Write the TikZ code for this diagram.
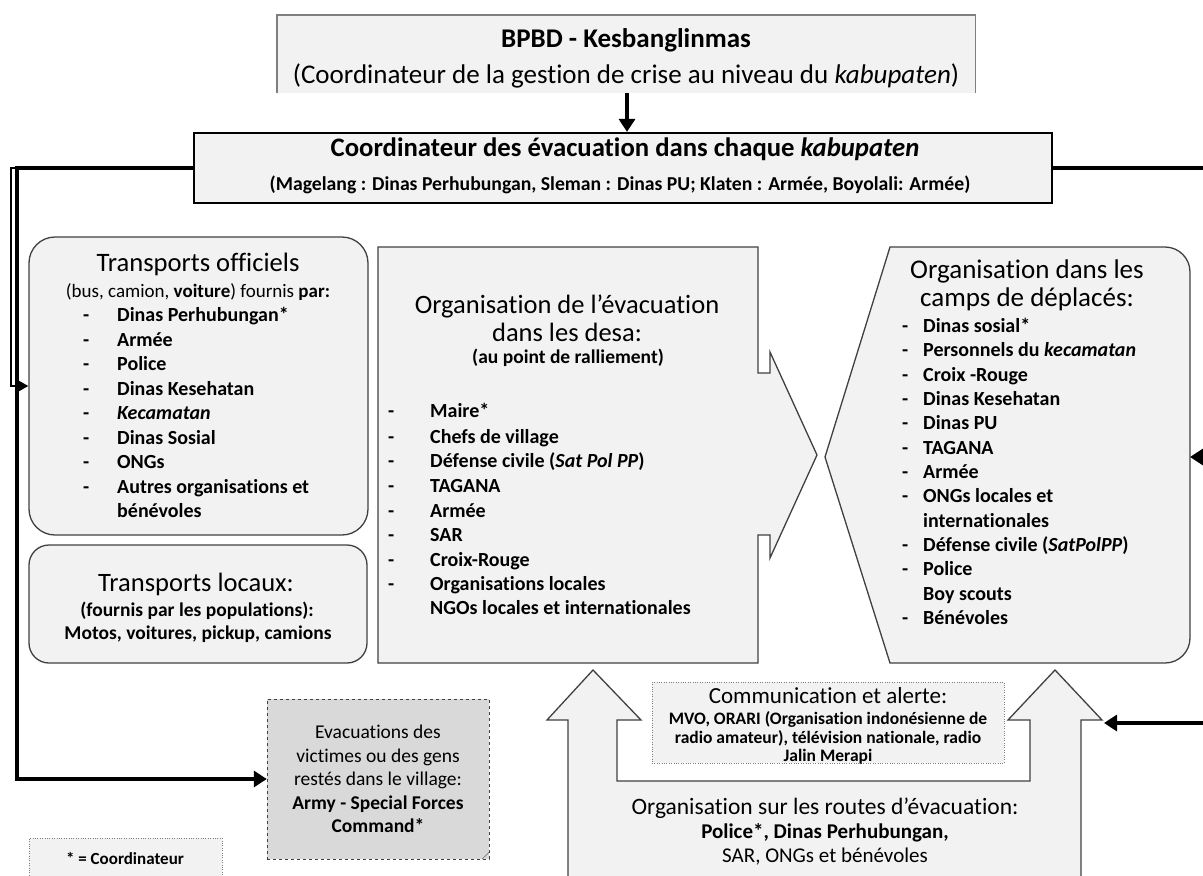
\documentclass[tikz,border=0pt]{standalone}
\usepackage{fontspec}
\setmainfont{Carlito}[Ligatures=NoCommon]
\usetikzlibrary{arrows.meta}

\definecolor{boxgray}{HTML}{F2F2F2}
\definecolor{evacgray}{HTML}{D9D9D9}
\definecolor{edgegray}{HTML}{404040}
\definecolor{linegray}{HTML}{7F7F7F}

\tikzset{
  conn/.style={line width=3.2pt, -{Triangle[length=13pt,width=16pt]}},
  thinconn/.style={line width=2.2pt, -{Triangle[length=13pt,width=14pt]}},
  panel/.style={draw=edgegray, line width=1.3pt, fill=boxgray},
  roundpanel/.style={panel, rounded corners=26pt, inner sep=0pt},
  title/.style={font=\fontsize{26.5}{31}\selectfont, inner sep=0pt, text height=19pt, text depth=6pt},
  subtitle/.style={font=\bfseries\fontsize{19.5}{23}\selectfont, inner sep=0pt, text height=14pt, text depth=4.5pt},
  itemtxt/.style={font=\bfseries\fontsize{20}{24}\selectfont, anchor=west, inner sep=0pt, text height=14pt, text depth=4.5pt},
  dashtxt/.style={itemtxt}
}

\begin{document}
\begin{tikzpicture}[x=1pt,y=-1pt]
\useasboundingbox (0,0) rectangle (1203,876);

% niveau kabupaten
\node[fill=boxgray, inner sep=0pt, minimum width=698pt, minimum height=78pt] (bpbd) at (626,54) {};
\draw[linegray, line width=1.4pt] (bpbd.south west) -- (bpbd.north west) -- (bpbd.north east) -- (bpbd.south east);
\node[title, font=\bfseries\fontsize{27}{31}\selectfont] (bpbd1) at (626,41) {BPBD - Kesbanglinmas};
\node[title, font=\fontsize{27}{31}\selectfont] (bpbd2) at (626,77) {(Coordinateur de la gestion de crise au niveau du \textit{kabupaten})};

\node[draw, line width=2.2pt, fill=boxgray, inner sep=0pt, minimum width=858pt, minimum height=70pt] (coord) at (623,168) {};
\node[title, font=\bfseries\fontsize{26.7}{31}\selectfont] (coord1) at (625,150) {Coordinateur des évacuation dans chaque \textit{kabupaten}};
\node[subtitle, font=\bfseries\fontsize{19.7}{23}\selectfont] (coord2) at (620,186) {(Magelang : Dinas Perhubungan, Sleman : Dinas PU; Klaten : Armée, Boyolali: Armée)};

\coordinate (arrx) at (627,0);
\draw[conn] (bpbd.south -| arrx) -- (coord.north -| arrx);

% transports
\node[roundpanel, minimum width=339pt, minimum height=298pt] (offc) at (198.5,386) {};
\node[title, font=\fontsize{26.6}{31}\selectfont] (offc1) at (198,265) {Transports officiels};
\node[subtitle, font=\fontsize{19}{23}\selectfont] (offc2) at (198,293) {(bus, camion, \textbf{voiture}) fournis \textbf{par:}};
\foreach \y/\d/\txt [count=\i] in {317/-/Dinas Perhubungan*, 341.5/-/Armée, 366/-/Police,
    390.5/-/Dinas Kesehatan, 415/-/\textit{Kecamatan}, 439.5/-/Dinas Sosial, 464/-/ONGs,
    488.5/-/Autres organisations et, 513//bénévoles}
{
  \node[dashtxt] (offd\i) at (83,\y) {\d};
  \node[itemtxt] (offt\i) at (117,\y) {\txt};
}

\node[roundpanel, rounded corners=20pt, minimum width=338pt, minimum height=118pt] (locx) at (198,604) {};
\node[title] (locx1) at (196,585) {Transports locaux:};
\node[subtitle] (locx2) at (197,612) {(fournis par les populations):};
\node[subtitle] (locx3) at (198,635) {Motos, voitures, pickup, camions};

% desa
\draw[panel] (378,247) -- (758,247) -- (758,373) -- (770,373) -- (770,352) -- (817,455)
  -- (770,558) -- (770,535) -- (758,535) -- (758,663) -- (378,663) -- cycle;
\node[title] (desa1) at (567,307) {Organisation de l’évacuation};
\node[title] (desa2) at (567,335) {dans les desa:};
\node[subtitle] (desa3) at (568,359) {(au point de ralliement)};
\foreach \y/\d/\txt [count=\i] in {413/-/Maire*, 439/-/Chefs de village,
    463/-/Défense civile (\textit{Sat Pol PP}), 488/-/TAGANA, 513/-/Armée, 537/-/SAR,
    562/-/Croix-Rouge, 586/-/Organisations locales, 610//NGOs locales et internationales}
{
  \node[dashtxt] (desad\i) at (388,\y) {\d};
  \node[itemtxt] (desat\i) at (430,\y) {\txt};
}

% camps
\draw[panel] (890,247) -- (1165,247) to[out=0,in=90] (1190,272) -- (1190,638)
  to[out=-90,in=0] (1165,663) -- (890,663) -- (825,457) -- cycle;
\node[title, font=\fontsize{27}{31}\selectfont] (camp1) at (1027,272) {Organisation dans les};
\node[title, font=\fontsize{27}{31}\selectfont] (camp2) at (1027,300) {camps de déplacés:};
\foreach \y/\d/\txt [count=\i] in {328/-/Dinas sosial*, 352/-/Personnels du \textit{kecamatan},
    376.5/-/Croix -Rouge, 401/-/Dinas Kesehatan, 425/-/Dinas PU, 449.5/-/TAGANA, 474/-/Armée,
    498/-/ONGs locales et, 522.5//internationales, 547/-/Défense civile (\textit{SatPolPP}),
    571/-/Police, 595.5//Boy scouts, 620/-/Bénévoles}
{
  \node[dashtxt] (campd\i) at (902,\y) {\d};
  \node[itemtxt] (campt\i) at (923,\y) {\txt};
}

% routes d'evacuation
\draw[panel] (568,890) -- (568,720) -- (547,720) -- (593,670) -- (641,720) -- (617,720)
  -- (617,781) -- (1030,781) -- (1030,720) -- (1008,720) -- (1055,670) -- (1102,720)
  -- (1081,720) -- (1081,890) -- cycle;
\node[title, font=\fontsize{23.5}{28}\selectfont] (route1) at (825,808) {Organisation sur les routes d’évacuation:};
\node[subtitle, font=\bfseries\fontsize{21}{25}\selectfont] (route2) at (825,834) {Police*, Dinas Perhubungan,};
\node[subtitle, font=\fontsize{21}{25}\selectfont] (route3) at (825,858) {SAR, ONGs et bénévoles};

\node[draw=linegray, dotted, fill=boxgray, inner sep=0pt, minimum width=352pt, minimum height=81pt] (comm) at (828,722.5) {};
\node[title, font=\fontsize{23}{27}\selectfont] (comm1) at (828,697) {Communication et alerte:};
\node[subtitle, font=\bfseries\fontsize{17.5}{20}\selectfont] (comm2) at (828,720) {MVO, ORARI (Organisation indonésienne de};
\node[subtitle, font=\bfseries\fontsize{17.5}{20}\selectfont] (comm3) at (828,739) {radio amateur), télévision nationale, radio};
\node[subtitle, font=\bfseries\fontsize{17.5}{20}\selectfont] (comm4) at (828,757) {Jalin Merapi};

% evacuation du village
\node[draw=edgegray, dashed, fill=evacgray, inner sep=0pt, minimum width=222pt, minimum height=160pt,
  align=center, font=\fontsize{19.5}{23.5}\selectfont] (evac) at (378,779)
  {Evacuations des\\victimes ou des gens\\restés dans le village:\\\textbf{Army - Special Forces}\\\textbf{Command*}};
\draw[edgegray] ([xshift=-7pt]evac.south east) -- ([yshift=7pt]evac.south east);

\node[draw=linegray, dotted, fill=boxgray, inner sep=0pt, minimum width=193pt, minimum height=50pt] (legend) at (125.5,863) {};
\node[subtitle, font=\bfseries\fontsize{17}{20}\selectfont] (legt) at (125,860) {* = Coordinateur};

% connecteurs
\coordinate (rtop) at (1205,168);
\coordinate (rbot) at (1205,723);
\coordinate (camp-e) at (1190,457);
\coordinate (route-e) at (1104,723);
\draw[line width=3.2pt] (coord.east) -- (rtop) -- (rbot);
\draw[conn] (rtop |- camp-e) -- (camp-e);
\draw[conn] (rbot) -- (route-e);

\coordinate (lout) at (17,168);
\coordinate (lin) at (11,386);
\draw[conn] (coord.west) -| (17,779) -- (evac.west);
\draw[thinconn] (lout) -- (lout -| lin) -- (lin) -- (offc.west);
\end{tikzpicture}
\end{document}
